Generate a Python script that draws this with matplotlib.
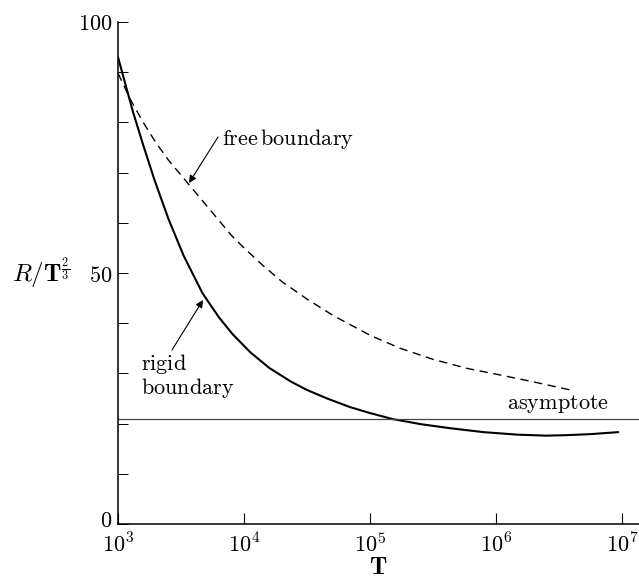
import numpy as np
import matplotlib
matplotlib.use("Agg")
import matplotlib.pyplot as plt
import matplotlib.transforms as mtransforms
from matplotlib.ticker import FixedLocator, MultipleLocator, NullLocator

plt.rcParams['mathtext.fontset'] = 'cm'
plt.rcParams['font.family'] = ['DejaVu Serif']

# ---- data ----
rigid_logT = [3.00, 3.06, 3.12, 3.20, 3.29, 3.40, 3.52, 3.67, 3.80, 3.91, 4.05, 4.20,
              4.37, 4.50, 4.66, 4.84, 5.00, 5.18, 5.40, 5.63, 5.90, 6.17, 6.40, 6.56,
              6.75, 6.97]
rigid_R = [93.0, 87.5, 82.0, 75.5, 68.5, 60.8, 53.5, 46.0, 41.2, 37.8, 34.2, 31.1,
           28.4, 26.7, 25.0, 23.3, 22.1, 20.9, 19.9, 19.1, 18.3, 17.8, 17.6, 17.7,
           17.9, 18.3]

free_logT = [3.00, 3.10, 3.20, 3.30, 3.40, 3.50, 3.60, 3.70, 3.80, 3.90, 4.00, 4.15,
             4.30, 4.50, 4.71, 5.00, 5.24, 5.50, 5.77, 6.05, 6.30, 6.59]
free_R = [89.8, 84.5, 80.0, 76.0, 72.5, 69.5, 66.5, 63.5, 60.5, 57.5, 55.0, 51.5,
          48.3, 44.8, 41.5, 37.6, 35.0, 32.8, 31.0, 29.6, 28.3, 26.7]

asymptote_R = 20.9

x_ticks = [1e3, 1e4, 1e5, 1e6, 1e7]
x_ticklabels = [r'$10^3$', r'$10^4$', r'$10^5$', r'$10^6$', r'$10^7$']
y_major = [0, 50, 100]
y_ticklabels = [r'$0$', r'$50$', r'$100$']

rigid_T = [10 ** v for v in rigid_logT]
free_T = [10 ** v for v in free_logT]

# ---- figure ----
W, H = 639, 579
fig = plt.figure(figsize=(W / 100, H / 100), dpi=100)
x0, x1 = 118, 639
y0, y1 = 524, 22
ax = fig.add_axes([x0 / W, 1 - y0 / H, (x1 - x0) / W, (y0 - y1) / H])

ax.set_xscale('log')
ax.set_xlim(1e3, 10 ** (3 + (x1 - x0) / 126.0))
ax.set_ylim(0, 100)

ax.plot(rigid_T, rigid_R, color='black', lw=1.5, solid_capstyle='round',
        solid_joinstyle='round')
ax.plot(free_T, free_R, color='black', lw=1.0, dashes=(6, 4))
ax.axhline(asymptote_R, color='#444444', lw=0.9)

for s in ['top', 'right']:
    ax.spines[s].set_visible(False)
for s in ['left', 'bottom']:
    ax.spines[s].set_linewidth(1.1)

ax.xaxis.set_major_locator(FixedLocator(x_ticks))
ax.xaxis.set_minor_locator(NullLocator())
ax.set_xticklabels(x_ticklabels)
ax.yaxis.set_major_locator(FixedLocator(y_major))
ax.yaxis.set_minor_locator(MultipleLocator(10))
ax.set_yticklabels(y_ticklabels)

ax.tick_params(axis='x', which='major', direction='in', length=8, width=0.8,
               labelsize=16, pad=7)
ax.tick_params(axis='y', which='both', direction='in', length=7, width=0.7,
               labelsize=16, pad=4)

# lift the "0" label slightly, as in the reference
lift = mtransforms.ScaledTranslation(0, 4 / 72, fig.dpi_scale_trans)
ylabels = ax.get_yticklabels()
ylabels[0].set_transform(ylabels[0].get_transform() + lift)

ax.set_xlabel(r'$\mathbf{T}$', fontsize=18, labelpad=-1)
fig.text(41 / W, 1 - 273 / H, r'$R/\mathbf{T}^{\frac{2}{3}}$', fontsize=18,
         ha='center', va='center')

def px(x, y):
    return 10 ** (3 + (x - x0) / 126.0), (y0 - y) / 5.02

arrow = dict(arrowstyle='-|>', color='black', lw=0.8, mutation_scale=11,
             shrinkA=0, shrinkB=0)

# free boundary label
ax.text(*px(222, 139), r'$\mathrm{free\,boundary}$', fontsize=16, ha='left', va='center')
ax.annotate('', xy=px(189, 183), xytext=px(218, 137), arrowprops=arrow)

# rigid boundary label
ax.text(*px(141, 376), r'$\mathrm{rigid}$' + '\n' + r'$\mathrm{boundary}$', fontsize=16,
        ha='left', va='center', linespacing=1.05)
ax.annotate('', xy=px(203, 300), xytext=px(172, 350), arrowprops=arrow)

# asymptote label
ax.text(*px(507, 404), r'$\mathrm{asymptote}$', fontsize=16, ha='left', va='center')

fig.savefig('out.png', dpi=100)
